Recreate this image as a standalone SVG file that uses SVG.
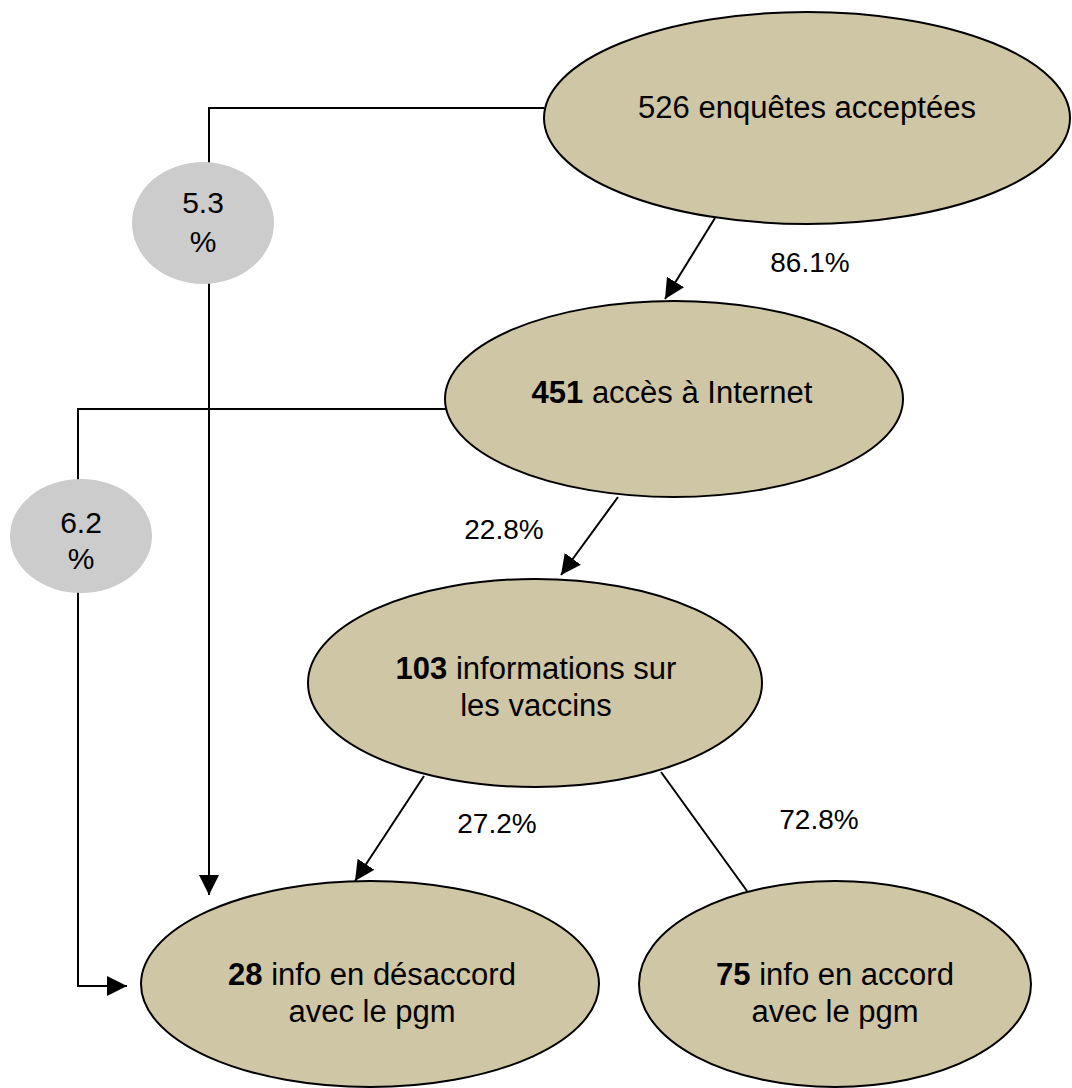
<svg xmlns="http://www.w3.org/2000/svg" width="1072" height="1088" viewBox="0 0 1072 1088">
<defs>
<style>
.node{fill:#CFC6A5;stroke:#000;stroke-width:2}
.pct{fill:#CCCCCC;stroke:none}
.t{font-family:"Liberation Sans",Arial,sans-serif;font-size:31px;fill:#000;text-anchor:middle}
.c{font-family:"Liberation Sans",Arial,sans-serif;font-size:30px;fill:#000;text-anchor:middle}
.lbl{font-family:"Liberation Sans",Arial,sans-serif;font-size:28px;fill:#000;text-anchor:middle}
.b{font-weight:bold}
.ln{fill:none;stroke:#000;stroke-width:2}
</style>
<marker id="arr" markerUnits="userSpaceOnUse" markerWidth="20" markerHeight="20" refX="20" refY="10" orient="auto">
<path d="M0,0 L20,10 L0,20 Z" fill="#000"/>
</marker>
</defs>
<rect width="1072" height="1088" fill="#fff"/>
<g id="connectors">
<path class="ln" d="M544,108 H209 V895" marker-end="url(#arr)"/>
<path class="ln" d="M446,409 H78 V986 H127" marker-end="url(#arr)"/>
<path class="ln" d="M715,218 L665,299" marker-end="url(#arr)"/>
<path class="ln" d="M618,497 L561,575" marker-end="url(#arr)"/>
<path class="ln" d="M424,776 L355,881" marker-end="url(#arr)"/>
<path class="ln" d="M661,772 L747,891"/>
<text class="lbl" x="810" y="272">86.1%</text>
<text class="lbl" x="504" y="539">22.8%</text>
<text class="lbl" x="497" y="833">27.2%</text>
<text class="lbl" x="819" y="829">72.8%</text>
</g>
<g id="p53">
<ellipse class="pct" cx="203" cy="223" rx="71" ry="61"/>
<text class="c" x="203" y="213">5.3</text>
<text class="c" x="203" y="252">%</text>
</g>
<g id="p62">
<ellipse class="pct" cx="81" cy="536" rx="71" ry="57"/>
<text class="c" x="81" y="533">6.2</text>
<text class="c" x="81" y="569">%</text>
</g>
<g id="n526">
<ellipse class="node" cx="807" cy="118" rx="263" ry="106"/>
<text class="t" x="807" y="118">526 enquêtes acceptées</text>
</g>
<g id="n451">
<ellipse class="node" cx="674" cy="399" rx="229" ry="98"/>
<text class="t" x="672" y="403"><tspan class="b">451</tspan> accès à Internet</text>
</g>
<g id="n103">
<ellipse class="node" cx="535" cy="683" rx="227" ry="104"/>
<text class="t" x="536" y="679"><tspan class="b">103</tspan> informations sur</text>
<text class="t" x="536" y="716">les vaccins</text>
</g>
<g id="n28">
<ellipse class="node" cx="370" cy="984" rx="229" ry="103"/>
<text class="t" x="372" y="985"><tspan class="b">28</tspan> info en désaccord</text>
<text class="t" x="372" y="1022">avec le pgm</text>
</g>
<g id="n75">
<ellipse class="node" cx="835" cy="984" rx="196" ry="103"/>
<text class="t" x="835" y="985"><tspan class="b">75</tspan> info en accord</text>
<text class="t" x="835" y="1022">avec le pgm</text>
</g>
</svg>
